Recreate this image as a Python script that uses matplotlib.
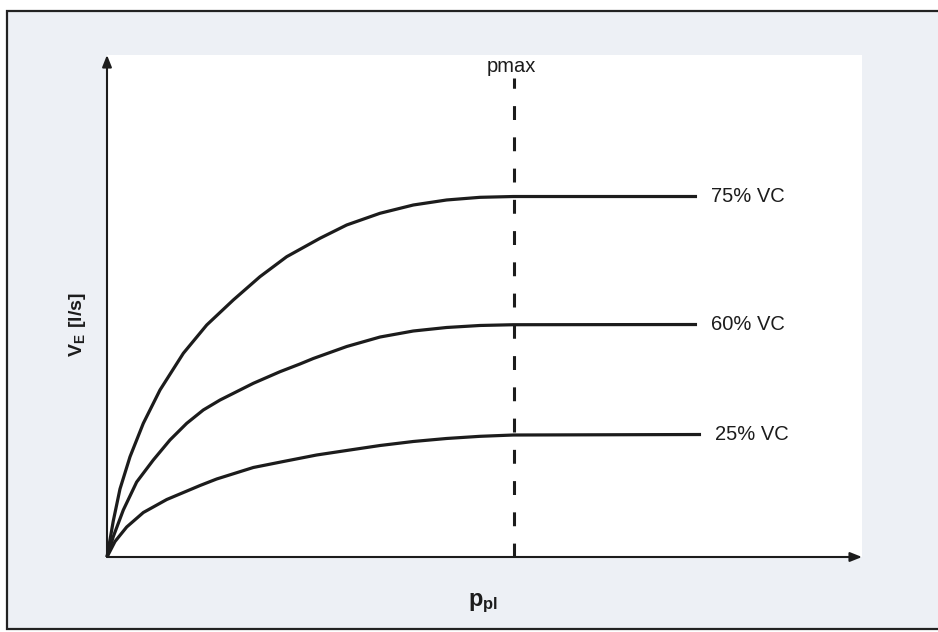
import matplotlib
matplotlib.use("Agg")
import matplotlib.pyplot as plt
from matplotlib.patches import Rectangle

plt.rcParams["font.family"] = ["Liberation Sans", "DejaVu Sans"]
plt.rcParams["mathtext.fontset"] = "custom"
plt.rcParams["mathtext.rm"] = "Liberation Sans"
plt.rcParams["mathtext.bf"] = "Liberation Sans:bold"
plt.rcParams["lines.scale_dashes"] = False

# Expiratory flow vs. pleural pressure at three lung volumes (arbitrary units)
x_75 = [0, 0.83, 1.72, 3.05, 4.81, 7.02, 10.11, 13.21, 16.73, 20.26, 23.80,
        28.21, 31.75, 36.16, 40.57, 44.99, 49.40, 53.81, 78.15]
y_75 = [0, 7.17, 13.55, 19.98, 26.63, 33.27, 40.58, 46.22, 51.20, 55.84, 59.82,
        63.49, 66.14, 68.47, 70.12, 71.12, 71.65, 71.81, 71.81]

x_60 = [0, 0.83, 2.16, 3.93, 6.13, 8.34, 10.56, 12.75, 14.97, 19.38, 22.91,
        25.56, 27.32, 31.75, 36.16, 40.57, 44.99, 49.40, 53.81, 78.15]
y_60 = [0, 4.04, 9.36, 14.94, 19.32, 23.31, 26.63, 29.28, 31.27, 34.60, 36.91,
        38.45, 39.54, 41.93, 43.82, 45.02, 45.72, 46.12, 46.27, 46.31]

x_25 = [0, 1.06, 2.61, 4.81, 7.91, 12.32, 14.53, 19.38, 23.35, 27.77, 31.75,
        36.16, 40.57, 44.99, 49.40, 53.81, 78.68]
y_25 = [0, 3.09, 5.98, 8.86, 11.45, 14.24, 15.54, 17.83, 19.02, 20.32, 21.22,
        22.21, 23.01, 23.61, 24.04, 24.30, 24.40]

curve_labels = ["75% VC", "60% VC", "25% VC"]
p_max = 53.9

W, H = 938, 632
fig = plt.figure(figsize=(W / 100, H / 100), dpi=100, facecolor="white")

# Light panel with a dark frame behind the plot
panel = Rectangle((7 / W, 3 / H), 1.2, (629 - 11) / H, transform=fig.transFigure,
                  facecolor="#edf0f5", edgecolor="#222222", lw=1.6, zorder=-5)
fig.patches.append(panel)

ax = fig.add_axes([107 / W, (H - 557) / H, 755 / W, 502 / H])
ax.set_zorder(2)
ax.set_facecolor("white")
ax.set_xlim(0, 100)
ax.set_ylim(0, 100)
for s in ax.spines.values():
    s.set_visible(False)
ax.set_xticks([])
ax.set_yticks([])

ink = "#1c1c1c"
# Axis arrows
arrow = dict(arrowstyle="-|>,head_length=0.7,head_width=0.28", color=ink, lw=1.5,
             shrinkA=0, shrinkB=0)
ax.annotate("", xy=(100, 0), xytext=(0, 0), arrowprops=arrow, annotation_clip=False)
ax.annotate("", xy=(0, 100), xytext=(0, 0), arrowprops=arrow, annotation_clip=False)

for xs, ys, lab in zip([x_75, x_60, x_25], [y_75, y_60, y_25], curve_labels):
    ax.plot(xs, ys, color=ink, lw=2.3, solid_capstyle="butt", solid_joinstyle="round",
            antialiased=True, clip_on=False)
    ax.text(xs[-1] + 1.8, ys[-1], lab, fontsize=14.5, color=ink, ha="left",
            va="center")

# Maximal pressure marker
ax.plot([p_max, p_max], [0, 95.4], color=ink, lw=2.2, dashes=(10, 12.5), clip_on=False)
ax.text(p_max - 0.3, 96.6, "pmax", fontsize=14.5, color=ink, ha="center", va="baseline")

fig.text(77 / W, (H - 325) / H, r"$\mathbf{V_E\ [l/s]}$", rotation=90, fontsize=14,
         ha="center", va="center", color=ink)
fig.text(483 / W, (H - 603) / H, r"$\mathbf{p_{pl}}$", fontsize=17,
         ha="center", va="center", color=ink)

fig.savefig("out.png", dpi=100, facecolor="white")
